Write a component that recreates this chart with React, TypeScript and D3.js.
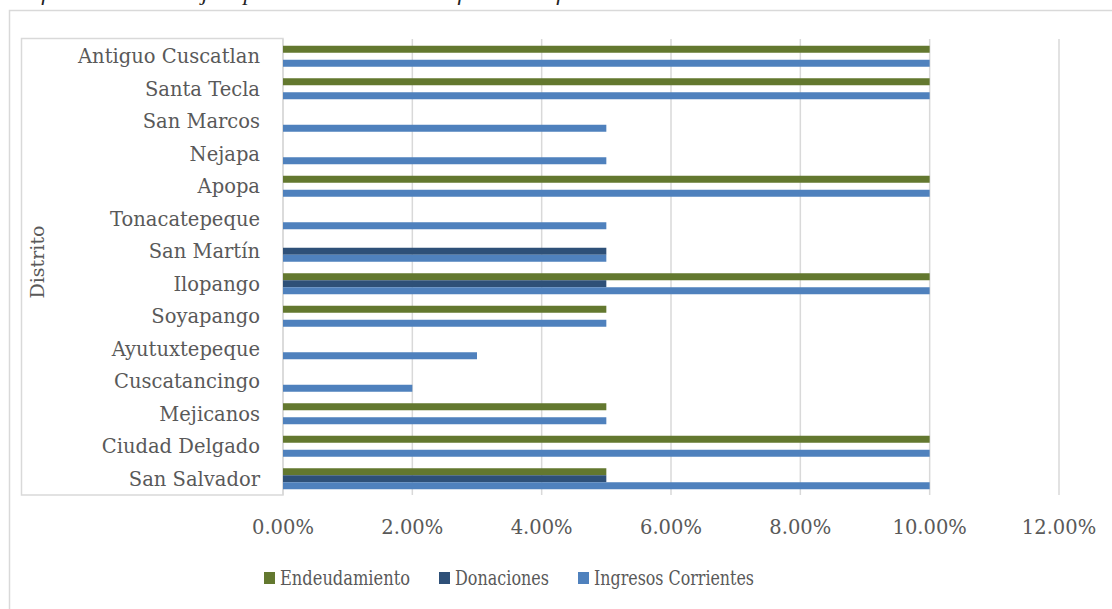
import React from "react";
import * as d3 from "d3";

// Districts, listed from top to bottom as drawn
const districts = [
  "Antiguo Cuscatlan",
  "Santa Tecla",
  "San Marcos",
  "Nejapa",
  "Apopa",
  "Tonacatepeque",
  "San Martín",
  "Ilopango",
  "Soyapango",
  "Ayutuxtepeque",
  "Cuscatancingo",
  "Mejicanos",
  "Ciudad Delgado",
  "San Salvador",
];

// Share of each funding source per district (fractions)
const endeudamiento = [0.1, 0.1, 0, 0, 0.1, 0, 0, 0.1, 0.05, 0, 0, 0.05, 0.1, 0.05];
const donaciones = [0, 0, 0, 0, 0, 0, 0.05, 0.05, 0, 0, 0, 0, 0, 0.05];
const ingresosCorrientes = [0.1, 0.1, 0.05, 0.05, 0.1, 0.05, 0.05, 0.1, 0.05, 0.03, 0.02, 0.05, 0.1, 0.1];

const seriesNames = ["Endeudamiento", "Donaciones", "Ingresos Corrientes"];
const seriesColors = ["#63782F", "#2E5078", "#4F81BD"];
const seriesValues = [endeudamiento, donaciones, ingresosCorrientes];

const xTicks = [0, 0.02, 0.04, 0.06, 0.08, 0.1, 0.12];

const titleText =
  "Gráfico 10: Porcentaje esperado de las diversas fuentes de fondos del total de inversión";

const FONT = "'DejaVu Serif', serif";
const TEXT = "#595959";
const GRID = "#D9D9D9";

export default function App() {
  const width = 1112;
  const height = 609;

  const x = d3.scaleLinear().domain([0, 0.12]).range([283, 1059]);
  const y = d3.scaleBand<string>().domain(districts).range([40, 495]);
  const groupH = 21;
  const inner = d3
    .scaleBand<string>()
    .domain(seriesNames)
    .range([0, groupH]);
  const groupOffset = (y.bandwidth() - groupH) / 2;
  const fmt = d3.format(".2%");

  const legendItems = [
    { name: seriesNames[0], color: seriesColors[0], x: 264, w: 130 },
    { name: seriesNames[1], color: seriesColors[1], x: 439, w: 94 },
    { name: seriesNames[2], color: seriesColors[2], x: 578, w: 160 },
  ];

  return (
    <svg
      width={width}
      height={height}
      style={{ position: "absolute", left: 0, top: 0, background: "#fff" }}
      fontFamily={FONT}
    >
      {/* caption running off the top of the page */}
      <text
        x={4}
        y={-0.5}
        fontFamily="'Liberation Serif', serif"
        fontStyle="italic"
        fontSize={21}
        fill="#222"
        textLength={815}
        lengthAdjust="spacingAndGlyphs"
      >
        {titleText}
      </text>

      {/* chart frame */}
      <rect x={9.5} y={10.5} width={1120} height={620} fill="none" stroke={GRID} strokeWidth={1.5} />

      {/* category label box */}
      <rect x={21.5} y={38.5} width={261.5} height={456.5} fill="#fff" stroke={GRID} strokeWidth={1.5} />

      {/* vertical gridlines */}
      {xTicks.map((t) => (
        <line
          key={t}
          x1={x(t)}
          x2={x(t)}
          y1={39}
          y2={495}
          stroke={GRID}
          strokeWidth={1.5}
        />
      ))}

      {/* bars */}
      {districts.map((d, i) =>
        seriesNames.map((s, k) => {
          const v = seriesValues[k][i];
          if (!v) return null;
          return (
            <rect
              key={d + s}
              x={x(0)}
              y={(y(d) as number) + groupOffset + (inner(s) as number)}
              width={x(v) - x(0)}
              height={inner.bandwidth()}
              fill={seriesColors[k]}
            />
          );
        })
      )}

      {/* category labels */}
      {districts.map((d) => (
        <text
          key={d}
          x={260}
          y={(y(d) as number) + y.bandwidth() / 2}
          dy="0.35em"
          textAnchor="end"
          fontSize={19.5}
          fill={TEXT}
        >
          {d}
        </text>
      ))}

      {/* x tick labels */}
      {xTicks.map((t) => (
        <text
          key={t}
          x={x(t)}
          y={534}
          textAnchor="middle"
          fontSize={19.5}
          fill={TEXT}
        >
          {fmt(t)}
        </text>
      ))}

      {/* axis title */}
      <text
        transform={`translate(44,${262}) rotate(-90)`}
        textAnchor="middle"
        fontSize={19}
        fill={TEXT}
      >
        Distrito
      </text>

      {/* legend */}
      {legendItems.map((it) => (
        <g key={it.name}>
          <rect x={it.x} y={572} width={11} height={12} fill={it.color} />
          <text
            x={it.x + 16}
            y={585}
            fontSize={20}
            fill={TEXT}
            textLength={it.w}
            lengthAdjust="spacingAndGlyphs"
          >
            {it.name}
          </text>
        </g>
      ))}
    </svg>
  );
}
